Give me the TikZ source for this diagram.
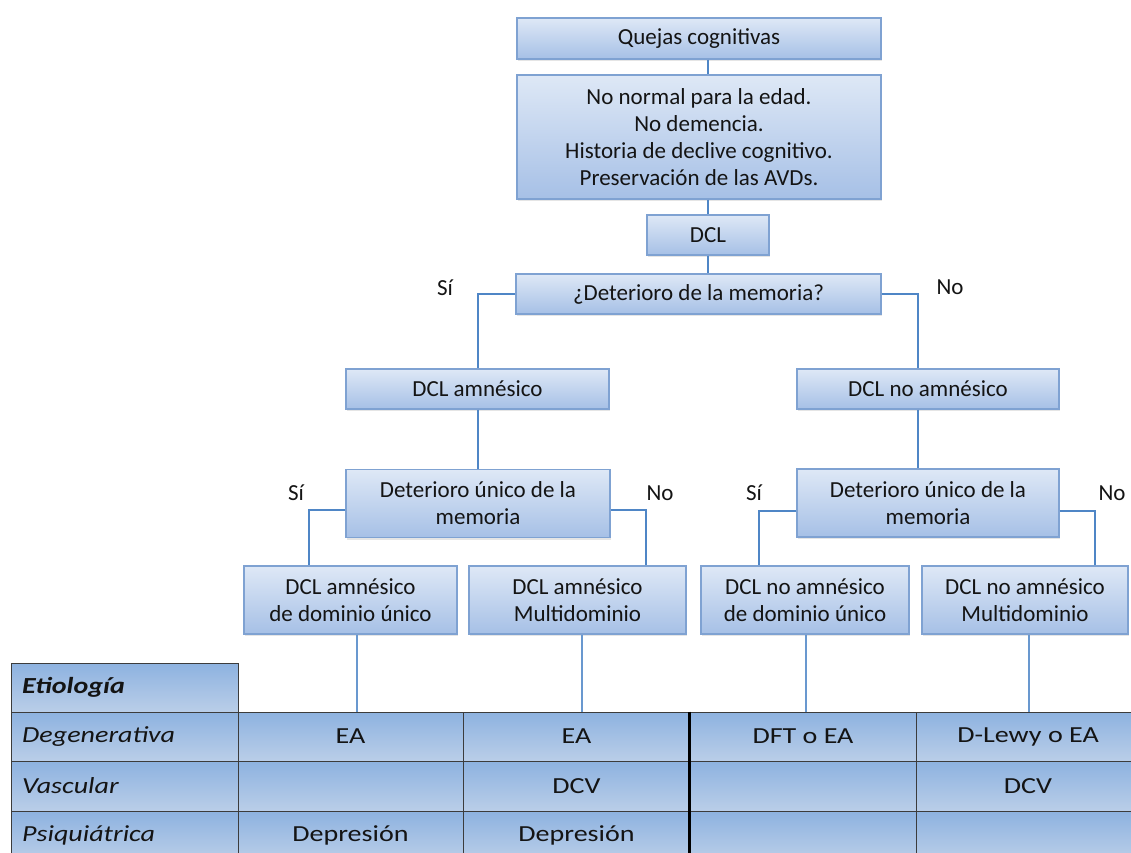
\documentclass[tikz,border=0pt]{standalone}
\usepackage{fontspec}
\setmainfont{Carlito}
\newfontfamily\tabfont[FakeStretch=1.22]{Carlito}
\usetikzlibrary{shadows}

\definecolor{boxtop}{HTML}{DEE8F6}
\definecolor{boxbot}{HTML}{A6C0E6}
\definecolor{boxline}{HTML}{7FA2D2}
\definecolor{linkblue}{HTML}{4F86C6}
\definecolor{celltop}{HTML}{8DB2E0}
\definecolor{cellbot}{HTML}{BACEE8}
\definecolor{cellline}{HTML}{3C3C3C}
\definecolor{ink}{HTML}{141414}

\begin{document}
\begin{tikzpicture}[x=1pt,y=-1pt,
  flowbox/.style={draw=boxline, line width=1.2pt, top color=boxtop, bottom color=boxbot,
    inner sep=0pt, align=center, text=ink, font=\fontsize{23}{27}\selectfont,
    drop shadow={shadow xshift=1pt, shadow yshift=-2pt, opacity=0.2}},
  link/.style={draw=linkblue, line width=2pt},
  stem/.style={draw=linkblue!85, line width=1.5pt},
  answer/.style={text=ink, font=\fontsize{23}{27}\selectfont, inner sep=0pt},
  cell/.style={draw=cellline, line width=1pt, top color=celltop, bottom color=cellbot,
    inner sep=0pt, text=ink, font=\tabfont\fontsize{23}{27}\selectfont},
  rowhead/.style={text=ink, inner sep=0pt, anchor=west, font=\tabfont\itshape\fontsize{23}{27}\selectfont},
]
\clip (0,0) rectangle (1131,852);
\fill[white] (0,0) rectangle (1131,852);

% ---- decision tree ----
\node[flowbox, minimum width=364pt, minimum height=41pt] (q1) at (699,38.5) {Quejas cognitivas};
\node[flowbox, minimum width=364pt, minimum height=124pt] (q2) at (699,137)
  {No normal para la edad.\\No demencia.\\Historia de declive cognitivo.\\Preservación de las AVDs.};
\node[flowbox, minimum width=122pt, minimum height=40pt] (dcl) at (708,235) {DCL};
\node[flowbox, minimum width=365pt, minimum height=40pt] (mem) at (698.5,294) {¿Deterioro de la memoria?};

\node[flowbox, minimum width=263pt, minimum height=40pt] (amn) at (477.5,389) {DCL amnésico};
\node[flowbox, minimum width=262pt, minimum height=40pt] (namn) at (928,389) {DCL no amnésico};

\node[flowbox, minimum width=264pt, minimum height=68pt] (du1) at (478,503.5) {Deterioro único de la\\memoria};
\node[flowbox, minimum width=262pt, minimum height=68pt] (du2) at (928,503) {Deterioro único de la\\memoria};

\node[flowbox, minimum width=213pt, minimum height=68pt] (b1) at (350.5,600) {DCL amnésico\\de dominio único};
\node[flowbox, minimum width=217pt, minimum height=68pt] (b2) at (577.5,600) {DCL amnésico\\Multidominio};
\node[flowbox, minimum width=208pt, minimum height=68pt] (b3) at (805,600) {DCL no amnésico\\de dominio único};
\node[flowbox, minimum width=206pt, minimum height=68pt] (b4) at (1025,600) {DCL no amnésico\\Multidominio};

% yes / no labels
\node[answer] (si1) at (445,288) {Sí};
\node[answer] (no1) at (950,287) {No};
\node[answer] (si2) at (296,493) {Sí};
\node[answer] (no2) at (660,493) {No};
\node[answer] (si3) at (754,493) {Sí};
\node[answer] (no3) at (1112,493) {No};

% connectors
\draw[link] (q1.south -| dcl.north) -- (q2.north -| dcl.north);
\draw[link] (q2.south -| dcl.north) -- (dcl.north);
\draw[link] (dcl.south) -- (mem.north -| dcl.south);
\draw[link] (mem.west) -| (amn.north);
\draw[link] (mem.east) -| ([xshift=-10pt]namn.north);
\draw[link] (amn.south) -- (du1.north -| amn.south);
\draw[link] ([xshift=-10pt]namn.south) -- ([xshift=-10pt]namn.south |- du2.north);
\draw[link] ([yshift=-6.5pt]du1.west) -| ([xshift=-41.5pt]b1.north);
\draw[link] ([yshift=-6.5pt]du1.east) -| ([xshift=68.5pt]b2.north);
\draw[link] ([yshift=-7.5pt]du2.west) -| ([xshift=-46pt]b3.north);
\draw[link] ([yshift=-7.5pt]du2.east) -| ([xshift=70pt]b4.north);

% ---- etiology table ----
\node[cell, minimum width=227pt, minimum height=49pt] (hd) at (124.5,687.5) {};

\node[cell, minimum width=227pt, minimum height=49pt] (c10) at (124.5,736.5) {};
\node[cell, minimum width=225pt, minimum height=49pt] (c11) at (350.5,736.5) {EA};
\node[cell, minimum width=227pt, minimum height=49pt] (c12) at (576.5,736.5) {EA};
\node[cell, minimum width=226pt, minimum height=49pt] (c13) at (803,736.5) {DFT o EA};
\node[cell, minimum width=224pt, minimum height=49pt] (c14) at (1028,736.5) {D-Lewy o EA};

\node[cell, minimum width=227pt, minimum height=50pt] (c20) at (124.5,786) {};
\node[cell, minimum width=225pt, minimum height=50pt] (c21) at (350.5,786) {};
\node[cell, minimum width=227pt, minimum height=50pt] (c22) at (576.5,786) {DCV};
\node[cell, minimum width=226pt, minimum height=50pt] (c23) at (803,786) {};
\node[cell, minimum width=224pt, minimum height=50pt] (c24) at (1028,786) {DCV};

\node[cell, minimum width=227pt, minimum height=49pt] (c30) at (124.5,835.5) {};
\node[cell, minimum width=225pt, minimum height=49pt] (c31) at (350.5,835.5) {Depresión};
\node[cell, minimum width=227pt, minimum height=49pt] (c32) at (576.5,835.5) {Depresión};
\node[cell, minimum width=226pt, minimum height=49pt] (c33) at (803,835.5) {};
\node[cell, minimum width=224pt, minimum height=49pt] (c34) at (1028,835.5) {};

\node[rowhead, font=\tabfont\bfseries\itshape\fontsize{23}{27}\selectfont] (thd) at (22,687.5) {Etiología};
\node[rowhead] (t10) at (22,736.5) {Degenerativa};
\node[rowhead] (t20) at (22,786) {Vascular};
\node[rowhead] (t30) at (22,835.5) {Psiquiátrica};

% divider between amnestic and non-amnestic columns
\draw[line width=3.5pt, black] (c13.north west) -- (c33.south west);

% stems from the subtypes into the table
\draw[stem] ([xshift=6.5pt]b1.south) -- ([xshift=6.5pt]b1.south |- c11.north);
\draw[stem] ([xshift=4.5pt]b2.south) -- ([xshift=4.5pt]b2.south |- c12.north);
\draw[stem] ([xshift=1pt]b3.south) -- ([xshift=1pt]b3.south |- c13.north);
\draw[stem] ([xshift=4pt]b4.south) -- ([xshift=4pt]b4.south |- c14.north);
\end{tikzpicture}
\end{document}
